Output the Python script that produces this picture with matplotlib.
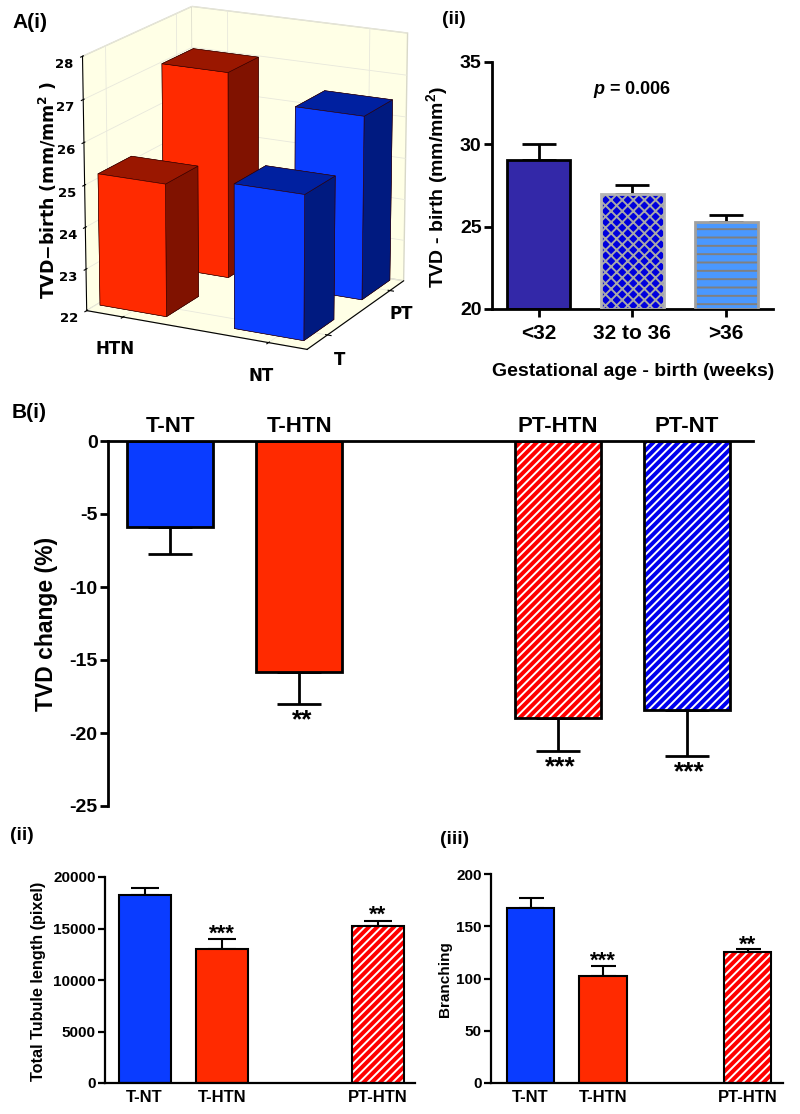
import matplotlib
matplotlib.use('Agg')
import matplotlib.pyplot as plt

W, H = 800, 1114
plt.rcParams['font.family'] = ['Liberation Sans', 'DejaVu Sans']
plt.rcParams['font.weight'] = 'bold'
plt.rcParams['axes.labelweight'] = 'bold'
plt.rcParams['mathtext.fontset'] = 'custom'
plt.rcParams['mathtext.rm'] = 'Liberation Sans:bold'
plt.rcParams['mathtext.bf'] = 'Liberation Sans:bold'
plt.rcParams['mathtext.it'] = 'Liberation Sans:italic:bold'
plt.rcParams['hatch.linewidth'] = 1.4

RED = '#ff2a00'
BLUE = '#0a3cff'
HRED = '#ff0000'
HBLUE = '#0000ee'

# A(i) 3d bars
a1_x = [0.015, 0.635, 0.015, 0.635]
a1_y = [0.09, 0.09, 0.68, 0.68]
a1_vals = [25.15, 25.4, 27.0, 26.4]
a1_cols = ['r', 'b', 'r', 'b']
a1_zticks = [22, 23, 24, 25, 26, 27, 28]

# A(ii)
a2_labels = ['<32', '32 to 36', '>36']
a2_vals = [29.05, 27.0, 25.3]
a2_err = [0.95, 0.5, 0.4]

# B(i)
b1_labels = ['T-NT', 'T-HTN', 'PT-HTN', 'PT-NT']
b1_pos = [0, 1, 3, 4]
b1_vals = [-5.9, -15.8, -19.0, -18.4]
b1_err = [1.85, 2.2, 2.2, 3.15]
b1_stars = ['', '**', '***', '***']

# B(ii), B(iii)
b_labels = ['T-NT', 'T-HTN', 'PT-HTN']
b_pos = [0, 1, 3]
b2_vals = [18250, 13050, 15250]
b2_err = [650, 900, 500]
b3_vals = [167.5, 102.5, 125.5]
b3_err = [9.5, 9.5, 2.5]
b_stars = ['', '***', '**']


def axes_px(fig, l, t, r, b, **kw):
    return fig.add_axes([l / W, 1 - b / H, (r - l) / W, (b - t) / H], **kw)


def hatched_bar(ax, x, v, w, face, hcol, hatch, edge='black', lw=2):
    ax.bar(x, v, w, color=face, edgecolor=hcol, hatch=hatch, linewidth=0, zorder=2)
    ax.bar(x, v, w, fill=False, edgecolor=edge, linewidth=lw, zorder=3)


def style(ax, lw=2, size=13, ticklen=6):
    ax.spines['top'].set_visible(False)
    ax.spines['right'].set_visible(False)
    ax.spines['left'].set_linewidth(lw)
    ax.spines['bottom'].set_linewidth(lw)
    ax.tick_params(width=lw, length=ticklen, labelsize=size, pad=1.5)


fig = plt.figure(figsize=(8, 11.14), dpi=100)

# ---- A(i)
ax = axes_px(fig, 42, -23, 442, 377, projection='3d')
ax.set_proj_type('persp', focal_length=1.4)
ax.set_box_aspect((233, 216, 250), zoom=1.03)
ax.view_init(elev=17, azim=-63)
ax.set_xlim(0, 1)
ax.set_ylim(0, 1)
ax.set_zlim(22, 28)
for i in range(4):
    if a1_cols[i] == 'r':
        top, side, front = '#9a1700', '#801200', RED
    else:
        top, side, front = '#0020a0', '#001a80', BLUE
    # bottom, top, front, back, left, right
    ax.bar3d(a1_x[i], a1_y[i], 22, 0.31, 0.3, a1_vals[i] - 22,
             color=[top, top, front, front, side, side], shade=False,
             edgecolor='#300000', linewidth=0.4)
for axis in (ax.xaxis, ax.yaxis, ax.zaxis):
    axis.set_pane_color('#ffffe6')
    axis.pane.set_edgecolor('#d8d8c8')
    axis._axinfo['grid']['color'] = '#e8e8dc'
    axis._axinfo['grid']['linewidth'] = 0.6
ax.set_xticks([0.17, 0.83])
ax.set_xticklabels(['HTN', 'NT'], fontsize=12, family='DejaVu Sans')
ax.set_yticks([0.2, 0.85])
ax.set_yticklabels(['T', 'PT'], fontsize=12, family='DejaVu Sans')
ax.set_zticks(a1_zticks)
ax.set_zticklabels(a1_zticks, fontsize=9.5, family='DejaVu Sans')
ax.zaxis.set_ticks_position('lower')
ax.tick_params(axis='x', pad=3)
ax.tick_params(axis='y', pad=0)
ax.tick_params(axis='z', pad=0)
fig.text(48 / W, 1 - 190 / H, 'TVD\u2212birth (mm/mm$^2$ )', rotation=90, ha='center', va='center',
         fontsize=12.5, family='DejaVu Sans', math_fontfamily='dejavusans')

# ---- A(ii)
ax = axes_px(fig, 492, 62, 773, 309)
w = 0.67
ax.bar(0, a2_vals[0] - 20, w, bottom=20, color='#3328a8', edgecolor='black', linewidth=2, zorder=2)
ax.bar(1, a2_vals[1] - 20, w, bottom=20, color='#0000dd', edgecolor='#a8a8a8', hatch='xxx', linewidth=0, zorder=2)
ax.bar(1, a2_vals[1] - 20, w, bottom=20, fill=False, edgecolor='#b4b4b4', linewidth=2, zorder=3)
ax.bar(2, a2_vals[2] - 20, w, bottom=20, color='#4a98ff', edgecolor='#808080', hatch='--', linewidth=0, zorder=2)
ax.bar(2, a2_vals[2] - 20, w, bottom=20, fill=False, edgecolor='#a0a0a0', linewidth=2, zorder=3)
ax.errorbar([0, 1, 2], a2_vals, yerr=[[0, 0, 0], a2_err], fmt='none', ecolor='black', elinewidth=2,
            capsize=12, capthick=2, zorder=1)
ax.set_xlim(-0.496, 2.5)
ax.set_ylim(20, 35)
ax.set_yticks([20, 25, 30, 35])
ax.set_xticks([0, 1, 2])
ax.set_xticklabels(a2_labels, fontsize=15)
style(ax, size=14)
ax.tick_params(axis='x', pad=5, labelsize=15)
ax.text(1, 33.3, r'$\mathit{p}$ = 0.006', ha='center', va='center', fontsize=13)
fig.text(633 / W, 1 - 372 / H, 'Gestational age - birth (weeks)', ha='center', va='center', fontsize=14)
fig.text(437 / W, 1 - 187 / H, 'TVD - birth (mm/mm$^{2}$)', rotation=90, ha='center', va='center', fontsize=14)

# ---- B(i)
ax = axes_px(fig, 108, 441, 753, 806)
w = 0.665
ax.bar(0, b1_vals[0], w, color=BLUE, edgecolor='black', linewidth=2, zorder=2)
ax.bar(1, b1_vals[1], w, color=RED, edgecolor='black', linewidth=2, zorder=2)
hatched_bar(ax, 3, b1_vals[2], w, HRED, 'white', '////')
hatched_bar(ax, 4, b1_vals[3], w, HBLUE, 'white', '////')
ax.errorbar(b1_pos, b1_vals, yerr=[b1_err, [0, 0, 0, 0]], fmt='none', ecolor='black', elinewidth=2,
            capsize=16, capthick=2, zorder=1)
for p, v, e, s, lab in zip(b1_pos, b1_vals, b1_err, b1_stars, b1_labels):
    ax.text(p, 0.3, lab, ha='center', va='bottom', fontsize=16)
    if s:
        ax.text(p + 0.02, v - e - 1.15, s, ha='center', va='center', fontsize=19)
ax.set_xlim(-0.48, 4.51)
ax.set_ylim(-25, 0)
ax.set_yticks([0, -5, -10, -15, -20, -25])
ax.set_yticklabels(['0', '-5', '-10', '-15', '-20', '-25'])
ax.set_xticks([])
style(ax, size=14)
ax.spines['bottom'].set_visible(False)
ax.spines['top'].set_visible(True)
ax.spines['top'].set_linewidth(2)
ax.set_ylabel('TVD change (%)', fontsize=16.5)
ax.yaxis.set_label_coords((58 - 108) / 645, 0.5)

# ---- B(ii)
ax = axes_px(fig, 105, 877, 415, 1083)
w = 0.67
ax.bar(0, b2_vals[0], w, color=BLUE, edgecolor='black', linewidth=1.5, zorder=2)
ax.bar(1, b2_vals[1], w, color=RED, edgecolor='black', linewidth=1.5, zorder=2)
hatched_bar(ax, 3, b2_vals[2], w, HRED, 'white', '////', lw=1.5)
ax.errorbar(b_pos, b2_vals, yerr=[[0, 0, 0], b2_err], fmt='none', ecolor='black', elinewidth=1.5,
            capsize=10, capthick=1.5, zorder=1)
for p, v, e, s in zip(b_pos, b2_vals, b2_err, b_stars):
    if s:
        ax.text(p, v + e + 540, s, ha='center', va='center', fontsize=16)
ax.set_xlim(-0.51, 3.48)
ax.set_ylim(0, 20000)
ax.set_yticks([0, 5000, 10000, 15000, 20000])
ax.set_xticks(b_pos)
ax.set_xticklabels(b_labels, fontsize=12)
style(ax, lw=1.6, size=11, ticklen=5)
ax.tick_params(axis='x', length=0, pad=5, labelsize=12)
fig.text(39 / W, 1 - 981 / H, 'Total Tubule length (pixel)', rotation=90, ha='center', va='center', fontsize=11.7)

# ---- B(iii)
ax = axes_px(fig, 491, 874, 783, 1083)
w = 0.66
ax.bar(0, b3_vals[0], w, color=BLUE, edgecolor='black', linewidth=1.5, zorder=2)
ax.bar(1, b3_vals[1], w, color=RED, edgecolor='black', linewidth=1.5, zorder=2)
hatched_bar(ax, 3, b3_vals[2], w, HRED, 'white', '////', lw=1.5)
ax.errorbar(b_pos, b3_vals, yerr=[[0, 0, 0], b3_err], fmt='none', ecolor='black', elinewidth=1.5,
            capsize=9, capthick=1.5, zorder=1)
for p, v, e, s in zip(b_pos, b3_vals, b3_err, b_stars):
    if s:
        ax.text(p, v + e + 4.3, s, ha='center', va='center', fontsize=16)
ax.set_xlim(-0.546, 3.49)
ax.set_ylim(0, 200)
ax.set_yticks([0, 50, 100, 150, 200])
ax.set_xticks(b_pos)
ax.set_xticklabels(b_labels, fontsize=12)
style(ax, lw=1.6, size=11, ticklen=5)
ax.tick_params(axis='x', length=0, pad=5, labelsize=12)
fig.text(445 / W, 1 - 979 / H, 'Branching', rotation=90, ha='center', va='center', fontsize=11)

# panel letters
fig.text(12 / W, 1 - 22 / H, 'A(i)', ha='left', va='center', fontsize=15)
fig.text(442 / W, 1 - 20 / H, '(ii)', ha='left', va='center', fontsize=14)
fig.text(12 / W, 1 - 412 / H, 'B(i)', ha='left', va='center', fontsize=15)
fig.text(10 / W, 1 - 835 / H, '(ii)', ha='left', va='center', fontsize=14)
fig.text(440 / W, 1 - 840 / H, '(iii)', ha='left', va='center', fontsize=14)

fig.savefig('out.png', dpi=100)
